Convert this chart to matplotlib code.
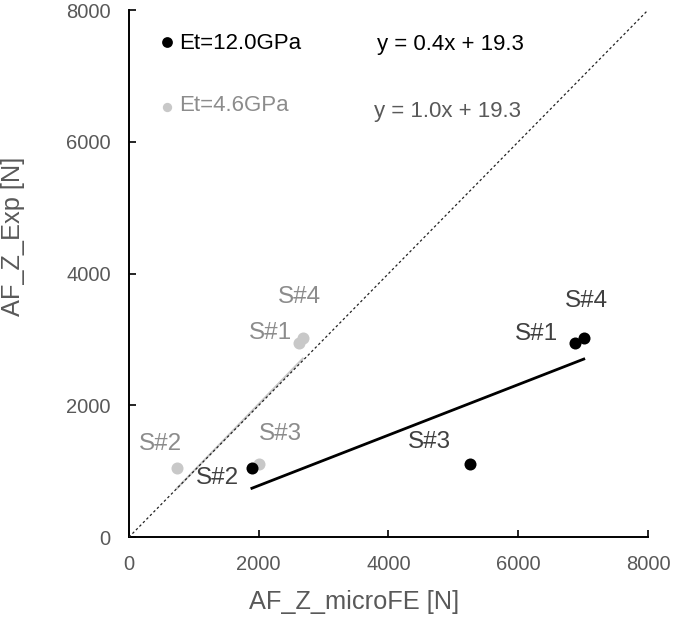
import numpy as np
import matplotlib
matplotlib.use('Agg')
import matplotlib.pyplot as plt

# sample names, shared by both series
samples = ["S#1", "S#2", "S#3", "S#4"]

# Et = 12.0 GPa
x_hi = [6870, 1895, 5255, 7010]
y_hi = [2945, 1050, 1110, 3020]

# Et = 4.6 GPa
x_lo = [2620, 740, 2005, 2680]
y_lo = [2945, 1050, 1110, 3020]

eq_hi = "y = 0.4x + 19.3"
eq_lo = "y = 1.0x + 19.3"

# label offsets (pixels) relative to each point
off_hi = [(-17, 9, 'right'), (-34, -10, 'center'), (-40, 22, 'center'), (3, 37, 'center')]
off_lo = [(-28, 10, 'center'), (-16, 24, 'center'), (21, 30, 'center'), (-3, 41, 'center')]

plt.rcParams['font.family'] = ['Liberation Sans', 'DejaVu Sans']

BLACK = '#000000'
LGRAY = '#c8c8c8'
TXT = '#595959'

fig = plt.figure(figsize=(6.75, 6.29), dpi=100)
ax = fig.add_axes([0.191, 0.146, 0.769, 0.838])

# 1:1 reference line
ax.plot([0, 8000], [0, 8000], ls=(0, (2, 2)), color='#222222', lw=0.9, zorder=3)

# linear trends
k, b = np.polyfit(x_hi, y_hi, 1)
xs = np.array([min(x_hi), max(x_hi)])
ax.plot(xs, k * xs + b, color=BLACK, lw=2, zorder=2)
k2, b2 = np.polyfit(x_lo, y_lo, 1)
xs2 = np.array([min(x_lo), max(x_lo)])
ax.plot(xs2, k2 * xs2 + b2, color=LGRAY, lw=1.5, zorder=2)

ax.scatter(x_lo, y_lo, s=75, color=LGRAY, zorder=4, linewidths=0)
ax.scatter(x_hi, y_hi, s=75, color=BLACK, zorder=5, linewidths=0)

px = 0.72  # points per pixel
for name, x, y, (dx, dy, ha) in zip(samples, x_hi, y_hi, off_hi):
    ax.annotate(name, (x, y), xytext=(dx * px, dy * px), textcoords='offset points',
                ha=ha, va='center', fontsize=17.5, color='#404040')
for name, x, y, (dx, dy, ha) in zip(samples, x_lo, y_lo, off_lo):
    ax.annotate(name, (x, y), xytext=(dx * px, dy * px), textcoords='offset points',
                ha=ha, va='center', fontsize=17.5, color='#8c8c8c')

# legend entries drawn by hand to match the wide spacing
ax.scatter([0.073], [0.939], s=60, color=BLACK, transform=ax.transAxes, clip_on=False, linewidths=0)
ax.text(0.0963, 0.937, "Et=12.0GPa", transform=ax.transAxes, fontsize=16, va='center', color=BLACK)
ax.scatter([0.073], [0.816], s=45, color=LGRAY, transform=ax.transAxes, clip_on=False, linewidths=0)
ax.text(0.0963, 0.818, "Et=4.6GPa", transform=ax.transAxes, fontsize=16, va='center', color='#8c8c8c')

ax.text(0.478, 0.935, eq_hi, transform=ax.transAxes, fontsize=16, va='center', color=BLACK)
ax.text(0.472, 0.808, eq_lo, transform=ax.transAxes, fontsize=16, va='center', color=TXT)

ax.set_xlim(0, 8000)
ax.set_ylim(0, 8000)
ax.set_xticks(range(0, 8001, 2000))
ax.set_yticks(range(0, 8001, 2000))
ax.tick_params(direction='in', length=5, width=1.2, labelsize=14.5, labelcolor=TXT)
ax.tick_params(axis='x', pad=13)
ax.tick_params(axis='y', pad=13)
for s in ['top', 'right']:
    ax.spines[s].set_visible(False)
for s in ['left', 'bottom']:
    ax.spines[s].set_linewidth(1.4)

ax.set_xlabel("AF_Z_microFE [N]", fontsize=18.3, color=TXT)
ax.set_ylabel("AF_Z_Exp [N]", fontsize=18.3, color=TXT)
ax.xaxis.set_label_coords(0.434, -0.10)
ax.yaxis.set_label_coords(-0.200, 0.571)

fig.savefig('out.png', dpi=100)
